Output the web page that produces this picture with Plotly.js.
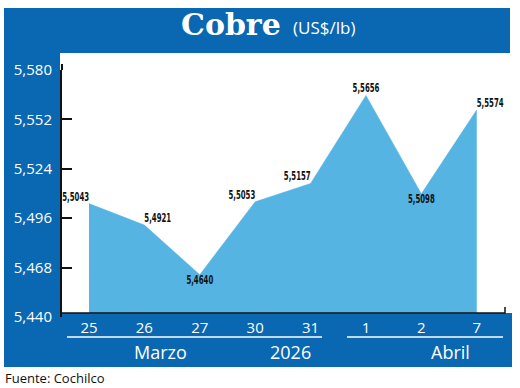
<!DOCTYPE html>
<html>
<head>
<meta charset="utf-8">
<script src="https://cdn.plot.ly/plotly-3.0.1.min.js"></script>
<style>html,body{margin:0;padding:0;background:#fff;}#chart{width:520px;height:388px;}</style>
</head>
<body>
<div id="chart"></div>
<script>
// Data
var dayLabels = ['25', '26', '27', '30', '31', '1', '2', '7'];
var prices = [5.5043, 5.4921, 5.4640, 5.5053, 5.5157, 5.5656, 5.5098, 5.5574];
var priceLabels = ['5,5043', '5,4921', '5,4640', '5,5053', '5,5157', '5,5656', '5,5098', '5,5574'];
var labelPositions = ['top left', 'top right', 'bottom center', 'top left', 'top left', 'top center', 'bottom center', 'top right'];
var yTickVals = [5.440, 5.468, 5.496, 5.524, 5.552, 5.580];
var yTickText = ['5,440', '5,468', '5,496', '5,524', '5,552', '5,580'];
var monthLabels = ['Marzo', '2026', 'Abril'];
var titleMain = 'Cobre';
var titleUnit = '(US$/lb)';
var sourceText = 'Fuente: Cochilco';

// Layout geometry (pixels)
var W = 520, H = 388;
var L = 62, R = 505, T = 70, B = 317;
var pw = R - L, ph = B - T;
function px(x) { return (x - L) / pw; }
function py(y) { return (B - y) / ph; }

var DARK = '#0a67b1';
var LIGHT = '#55b4e2';
var SANS = 'Open Sans, Lato, sans-serif';

var trace = {
  type: 'scatter',
  x: dayLabels,
  y: prices,
  mode: 'lines+text',
  fill: 'tozeroy',
  fillcolor: LIGHT,
  line: {color: LIGHT, width: 0.5},
  text: priceLabels,
  textposition: labelPositions,
  textfont: {family: 'DejaVu Sans, sans-serif', size: 12, color: '#111', weight: 'bold'},
  hoverinfo: 'skip',
  cliponaxis: false
};

function rect(x0, y0, x1, y1, color, layer) {
  return {type: 'rect', xref: 'paper', yref: 'paper', x0: px(x0), x1: px(x1), y0: py(y0), y1: py(y1),
    fillcolor: color, line: {width: 0}, layer: layer || 'below'};
}
function hline(x0, x1, y, color, w, layer) {
  return {type: 'line', xref: 'paper', yref: 'paper', x0: px(x0), x1: px(x1), y0: py(y), y1: py(y),
    line: {color: color, width: w}, layer: layer || 'above'};
}

var shapes = [
  rect(4, 8, 510, 53, DARK),
  rect(4, 8, 60, 367, DARK),
  rect(4, 313, 512, 367, DARK),
  rect(63, 313.5, 512, 318, DARK, 'above'),
  hline(62, 505, 313, '#111', 1.5),
  {type: 'line', xref: 'paper', yref: 'paper', x0: px(505), x1: px(505), y0: py(307), y1: py(313.5),
   line: {color: '#111', width: 1.5}, layer: 'above'},
  {type: 'line', xref: 'paper', yref: 'paper', x0: px(62), x1: px(62), y0: py(64), y1: py(70),
   line: {color: '#111', width: 2}, layer: 'above'},
  hline(67, 322, 337, '#ffffff', 1.5),
  hline(347, 503, 337, '#ffffff', 1.5)
];

var annotations = [
  {text: titleMain, xref: 'paper', yref: 'paper', x: px(283), y: py(25), xanchor: 'right', yanchor: 'middle',
   showarrow: false, font: {family: 'DejaVu Serif, Liberation Serif, serif', size: 30, color: '#fff', weight: 'bold'}},
  {text: titleUnit, xref: 'paper', yref: 'paper', x: px(291), y: py(27), xanchor: 'left', yanchor: 'middle',
   showarrow: false, font: {family: SANS, size: 17, color: '#fff'}},
  {text: monthLabels[0], xref: 'paper', yref: 'paper', x: px(160), y: py(352), xanchor: 'center', yanchor: 'middle',
   showarrow: false, font: {family: SANS, size: 18, color: '#fff'}},
  {text: monthLabels[1], xref: 'paper', yref: 'paper', x: px(290), y: py(352), xanchor: 'center', yanchor: 'middle',
   showarrow: false, font: {family: SANS, size: 18, color: '#fff'}},
  {text: monthLabels[2], xref: 'paper', yref: 'paper', x: px(450), y: py(352), xanchor: 'center', yanchor: 'middle',
   showarrow: false, font: {family: SANS, size: 18, color: '#fff'}},
  {text: sourceText, xref: 'paper', yref: 'paper', x: px(3), y: py(378), xanchor: 'left', yanchor: 'middle',
   showarrow: false, font: {family: SANS, size: 13, color: '#111'}}
];

var layout = {
  width: W, height: H,
  margin: {l: L, r: W - R, t: T, b: H - B, pad: 0},
  paper_bgcolor: '#ffffff',
  plot_bgcolor: 'rgba(0,0,0,0)',
  showlegend: false,
  xaxis: {
    type: 'category',
    range: [-0.487, 7.51],
    showgrid: false, zeroline: false, showline: false, ticks: '',
    tickfont: {family: SANS, size: 15, color: '#fff'},
    fixedrange: true
  },
  yaxis: {
    range: [5.44, 5.58],
    tickvals: yTickVals, ticktext: yTickText,
    showgrid: false, zeroline: false,
    showline: true, linecolor: '#111', linewidth: 2,
    ticks: 'inside', ticklen: 10, tickwidth: 2, tickcolor: '#111',
    tickfont: {family: SANS, size: 15, color: '#fff'},
    ticklabelstandoff: 5,
    fixedrange: true
  },
  shapes: shapes,
  annotations: annotations
};

Plotly.newPlot('chart', [trace], layout, {displayModeBar: false, staticPlot: true}).then(function (gd) {
  // condense the value labels (narrow typeface look), anchored on the side nearest the point
  var nodes = gd.querySelectorAll('.textpoint text');
  nodes.forEach(function (node, i) {
    var pos = labelPositions[i] || 'top center';
    var origin = pos.indexOf('left') >= 0 ? 'right' : (pos.indexOf('right') >= 0 ? 'left' : 'center');
    node.style.transformBox = 'fill-box';
    node.style.transformOrigin = origin + ' center';
    node.style.transform = 'scaleX(0.58)';
  });
});
</script>
</body>
</html>
